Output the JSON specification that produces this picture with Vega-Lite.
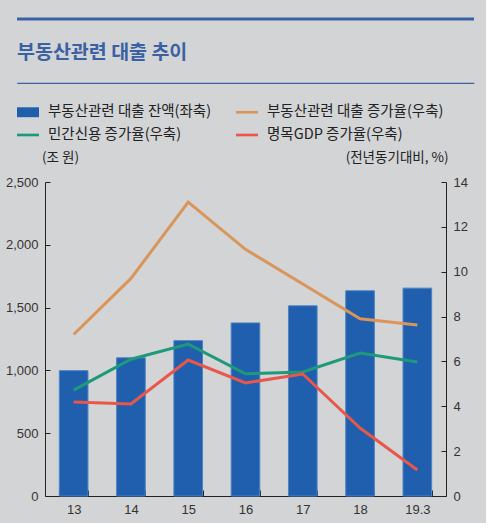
{
  "$schema": "https://vega.github.io/schema/vega-lite/v6.json",
  "background": "#d3d4d6",
  "padding": {"left": 4, "top": 17, "right": 10, "bottom": 6},
  "columns": 1,
  "spacing": 15,
  "bounds": "full",
  "resolve": {"scale": {"color": "independent"}, "legend": {"color": "independent"}},
  "config": {
    "font": "Noto Sans CJK KR",
    "axis": {
      "labelFont": "'Liberation Sans Narrow', 'Liberation Sans', sans-serif",
      "labelFontSize": 13,
      "labelColor": "#333333",
      "domainColor": "#222222",
      "tickColor": "#222222",
      "grid": false
    }
  },
  "datasets": {
    "loans": [
      {"year": "13", "series": "부동산관련 대출 잔액(좌축)", "value": 998},
      {"year": "14", "series": "부동산관련 대출 잔액(좌축)", "value": 1100},
      {"year": "15", "series": "부동산관련 대출 잔액(좌축)", "value": 1237},
      {"year": "16", "series": "부동산관련 대출 잔액(좌축)", "value": 1378},
      {"year": "17", "series": "부동산관련 대출 잔액(좌축)", "value": 1514},
      {"year": "18", "series": "부동산관련 대출 잔액(좌축)", "value": 1634},
      {"year": "19.3", "series": "부동산관련 대출 잔액(좌축)", "value": 1655},
      {"year": "13", "series": "부동산관련 대출 증가율(우축)", "value": 7.2},
      {"year": "14", "series": "부동산관련 대출 증가율(우축)", "value": 9.7},
      {"year": "15", "series": "부동산관련 대출 증가율(우축)", "value": 13.1},
      {"year": "16", "series": "부동산관련 대출 증가율(우축)", "value": 11.0},
      {"year": "17", "series": "부동산관련 대출 증가율(우축)", "value": 9.45},
      {"year": "18", "series": "부동산관련 대출 증가율(우축)", "value": 7.9},
      {"year": "19.3", "series": "부동산관련 대출 증가율(우축)", "value": 7.62},
      {"year": "13", "series": "민간신용 증가율(우축)", "value": 4.72},
      {"year": "14", "series": "민간신용 증가율(우축)", "value": 6.1},
      {"year": "15", "series": "민간신용 증가율(우축)", "value": 6.77},
      {"year": "16", "series": "민간신용 증가율(우축)", "value": 5.45},
      {"year": "17", "series": "민간신용 증가율(우축)", "value": 5.53},
      {"year": "18", "series": "민간신용 증가율(우축)", "value": 6.37},
      {"year": "19.3", "series": "민간신용 증가율(우축)", "value": 5.97},
      {"year": "13", "series": "명목GDP 증가율(우축)", "value": 4.19},
      {"year": "14", "series": "명목GDP 증가율(우축)", "value": 4.1},
      {"year": "15", "series": "명목GDP 증가율(우축)", "value": 6.06},
      {"year": "16", "series": "명목GDP 증가율(우축)", "value": 5.04},
      {"year": "17", "series": "명목GDP 증가율(우축)", "value": 5.44},
      {"year": "18", "series": "명목GDP 증가율(우축)", "value": 3.03},
      {"year": "19.3", "series": "명목GDP 증가율(우축)", "value": 1.16}
    ]
  },
  "concat": [
    {
      "width": 457,
      "height": 5,
      "view": {"stroke": "#3a62a3", "strokeWidth": 3, "strokeDash": [457, 5000], "fill": null},
      "data": {"values": []},
      "mark": "rule",
      "encoding": {}
    },
    {
      "width": 457,
      "height": 1,
      "title": {
        "text": "부동산관련 대출 추이",
        "anchor": "start",
        "fontSize": 19.5,
        "fontWeight": "bold",
        "color": "#3a62a3",
        "font": "Noto Sans CJK KR",
        "offset": 20
      },
      "view": {"stroke": "#3a62a3", "strokeWidth": 1.2, "strokeDash": [457, 5000], "fill": null},
      "data": {"values": []},
      "mark": "rule",
      "encoding": {}
    },
    {
      "width": 429,
      "height": 314,
      "view": {"stroke": "#222222", "strokeWidth": 1, "strokeDash": [0, 743, 401, 5000], "fill": null},
      "data": {"name": "loans"},
      "encoding": {
        "x": {
          "field": "year",
          "type": "ordinal",
          "sort": null,
          "scale": {"paddingInner": 0.5, "paddingOuter": 0.4944, "align": 0.747},
          "axis": {"title": null, "labelAngle": 0, "domain": false, "tickBand": "extent", "tickSize": -6, "labelPadding": 13, "labelFontSize": 13}
        },
        "color": {
          "field": "series",
          "type": "nominal",
          "scale": {
            "domain": ["부동산관련 대출 잔액(좌축)", "부동산관련 대출 증가율(우축)", "민간신용 증가율(우축)", "명목GDP 증가율(우축)"],
            "range": ["#1f5fad", "#d9955a", "#1e9a7a", "#e8574a"]
          },
          "legend": {
            "title": null,
            "orient": "none",
            "direction": "horizontal",
            "legendX": 0,
            "legendY": -81,
            "columns": 2,
            "columnPadding": 24,
            "rowPadding": 5,
            "symbolSize": 484,
            "labelOffset": 9,
            "labelLimit": 300,
            "labelFontSize": 14.5,
            "labelColor": "#222222",
            "labelFont": "Noto Sans CJK KR",
            "encode": {
              "symbols": {
                "update": {
                  "shape": {"signal": "datum.value === '부동산관련 대출 잔액(좌축)' ? 'M-1,-0.45H1V0.45H-1Z' : 'M-1,-0.12H1V0.12H-1Z'"},
                  "fill": {"signal": "datum.value === '부동산관련 대출 잔액(좌축)' ? '#2a5599' : datum.value === '부동산관련 대출 증가율(우축)' ? '#c99070' : datum.value === '민간신용 증가율(우축)' ? '#1e9a7a' : '#e8574a'"},
                  "strokeWidth": {"value": 0},
                  "opacity": {"value": 1}
                }
              }
            }
          }
        }
      },
      "layer": [
        {
          "transform": [{"filter": "datum.series === '부동산관련 대출 잔액(좌축)'"}],
          "mark": {"type": "bar", "stroke": "#4d82c4", "strokeWidth": 1},
          "encoding": {
            "y": {
              "field": "value",
              "type": "quantitative",
              "scale": {"domain": [0, 2500]},
              "axis": {
                "offset": -28,
                "values": [0, 500, 1000, 1500, 2000, 2500],
                "format": ",.0f",
                "tickSize": -5,
                "labelPadding": 12,
                "title": "(조 원)",
                "titleAngle": 0,
                "titleX": 15,
                "titleY": -25,
                "titleAlign": "center",
                "titleBaseline": "middle",
                "titleFontSize": 13.5,
                "titleFontWeight": "normal",
                "titleColor": "#222222",
                "titleFont": "Noto Sans CJK KR"
              }
            }
          }
        },
        {
          "transform": [{"filter": "datum.series !== '부동산관련 대출 잔액(좌축)'"}],
          "mark": {"type": "line", "strokeWidth": 3},
          "encoding": {
            "y": {
              "field": "value",
              "type": "quantitative",
              "scale": {"domain": [0, 14]},
              "axis": {
                "orient": "right",
                "values": [0, 2, 4, 6, 8, 10, 12, 14],
                "tickSize": -5,
                "labelPadding": 12,
                "title": "(전년동기대비, %)",
                "titleAngle": 0,
                "titleX": 2,
                "titleY": -25,
                "titleAlign": "right",
                "titleBaseline": "middle",
                "titleFontSize": 13.5,
                "titleFontWeight": "normal",
                "titleColor": "#222222",
                "titleFont": "Noto Sans CJK KR"
              }
            }
          }
        }
      ],
      "resolve": {"scale": {"y": "independent"}}
    }
  ]
}
